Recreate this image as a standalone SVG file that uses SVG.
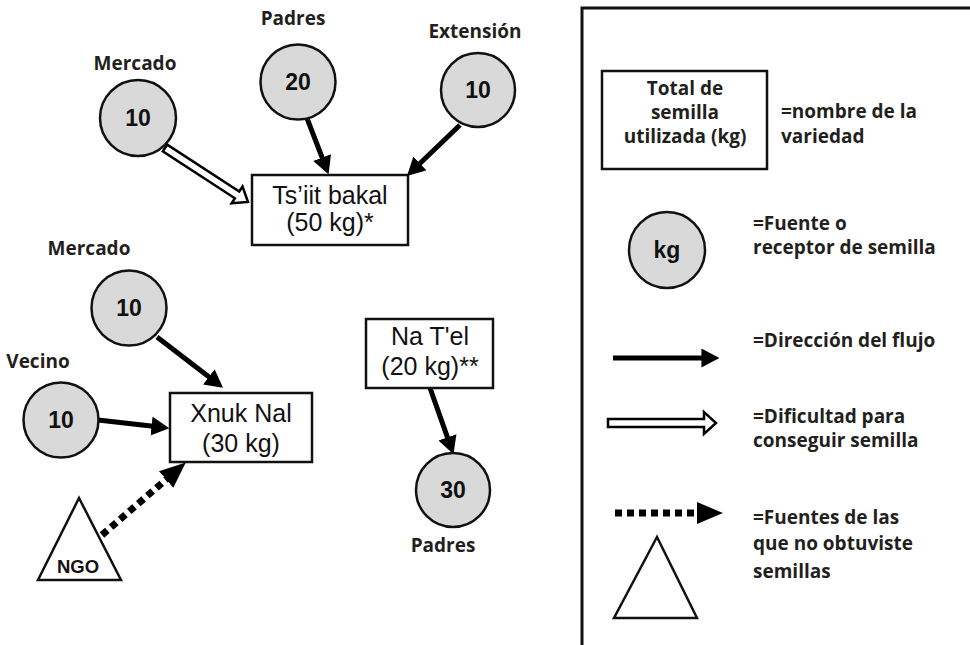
<svg xmlns="http://www.w3.org/2000/svg" width="970" height="645" viewBox="0 0 970 645">
<style>
.lbl{font-family:"Open Sans","Noto Sans",sans-serif;font-weight:700;font-size:19px;fill:#231f20}
.num{font-family:"Liberation Sans",Arial,sans-serif;font-weight:700;font-size:23px;fill:#111;text-anchor:middle}
.box{font-family:"Liberation Sans",Arial,sans-serif;font-size:25px;fill:#111;text-anchor:middle}
.c{fill:#d9d9d9;stroke:#111;stroke-width:2.5}
.r{fill:#fff;stroke:#111;stroke-width:2.5}
.t{fill:#fff;stroke:#111;stroke-width:2.5;stroke-linejoin:miter}
.solid{stroke:#000;stroke-width:5;fill:none;marker-end:url(#ah)}
.dot{stroke:#000;stroke-width:7;fill:none;stroke-dasharray:7 5;marker-end:url(#dh)}
.hollow{fill:#fff;stroke:#000;stroke-width:2.5;stroke-linejoin:miter}
.mid{text-anchor:middle}
</style>
<defs>
<marker id="ah" markerUnits="userSpaceOnUse" markerWidth="18" markerHeight="19" viewBox="0 0 17 18" refX="10" refY="9" orient="auto">
<path d="M0,0 L17,9 L0,18 z" fill="#000"/>
</marker>
<marker id="dh" markerUnits="userSpaceOnUse" markerWidth="26" markerHeight="22" viewBox="0 0 25 21" refX="2" refY="10.5" orient="auto">
<path d="M0,0 L25,10.5 L0,21 z" fill="#000"/>
</marker>
</defs>

<g id="connectors">
<polygon class="hollow" transform="translate(165,148) rotate(33.05)" points="0,-4 86,-4 86,-10 99,0 86,10 86,4 0,4"/>
<line class="solid" x1="305" y1="113" x2="325.9" y2="167.4"/>
<line class="solid" x1="460" y1="125" x2="412.3" y2="170.8"/>
<line class="solid" x1="157" y1="337" x2="217.2" y2="383.3"/>
<line class="solid" x1="98" y1="420" x2="162" y2="427.3"/>
<line class="solid" x1="430" y1="388" x2="451" y2="447.3"/>
<line class="dot" x1="102" y1="535" x2="167.7" y2="478.1"/>
</g>

<g id="mercado1">
<circle class="c" cx="138" cy="118" r="38"/>
<text class="num" x="138" y="126">10</text>
<text class="lbl mid" x="135" y="70">Mercado</text>
</g>
<g id="padres1">
<circle class="c" cx="298" cy="82" r="37.5"/>
<text class="num" x="298" y="90">20</text>
<text class="lbl mid" x="293" y="25">Padres</text>
</g>
<g id="extension">
<circle class="c" cx="478" cy="90" r="37"/>
<text class="num" x="478" y="98">10</text>
<text class="lbl mid" x="475" y="38">Extensión</text>
</g>
<g id="tsiit">
<rect class="r" x="252" y="175" width="156" height="70"/>
<text class="box" x="330" y="204">Ts’iit bakal</text>
<text class="box" x="330" y="231">(50 kg)*</text>
</g>
<g id="mercado2">
<circle class="c" cx="129" cy="308" r="37.5"/>
<text class="num" x="129" y="316">10</text>
<text class="lbl mid" x="89" y="255">Mercado</text>
</g>
<g id="vecino">
<circle class="c" cx="61" cy="420" r="37.5"/>
<text class="num" x="61" y="428">10</text>
<text class="lbl mid" x="38" y="368">Vecino</text>
</g>
<g id="xnuk">
<rect class="r" x="170" y="393" width="142" height="69"/>
<text class="box" x="241" y="422">Xnuk Nal</text>
<text class="box" x="241" y="452">(30 kg)</text>
</g>
<g id="ngo">
<polygon class="t" points="79,498 38,580 121,580"/>
<text class="num" x="78" y="573" style="font-size:18.5px">NGO</text>
</g>
<g id="natel">
<rect class="r" x="366" y="319" width="127" height="69"/>
<text class="box" x="430" y="345">Na T'el</text>
<text class="box" x="430" y="375">(20 kg)**</text>
</g>
<g id="padres2">
<circle class="c" cx="453" cy="490" r="37"/>
<text class="num" x="453" y="498">30</text>
<text class="lbl mid" x="443" y="552">Padres</text>
</g>

<g id="legend">
<path d="M582,645 V8 H972" fill="none" stroke="#111" stroke-width="3"/>
<rect class="r" x="602" y="71" width="165" height="98"/>
<text class="lbl mid" x="685" y="95">Total de</text>
<text class="lbl mid" x="685" y="119">semilla</text>
<text class="lbl mid" x="685" y="143">utilizada (kg)</text>
<text class="lbl" x="781" y="118">=nombre de la</text>
<text class="lbl" x="781" y="143">variedad</text>
<circle class="c" cx="667" cy="250" r="38"/>
<text class="num" x="667" y="258">kg</text>
<text class="lbl" x="753" y="230">=Fuente o</text>
<text class="lbl" x="753" y="254">receptor de semilla</text>
<line class="solid" x1="613" y1="358" x2="712" y2="358"/>
<text class="lbl" x="753" y="347">=Dirección del flujo</text>
<polygon class="hollow" points="608,419 704,419 704,412 716,423 704,434 704,427 608,427"/>
<text class="lbl" x="753" y="423">=Dificultad para</text>
<text class="lbl" x="753" y="447">conseguir semilla</text>
<line class="dot" x1="615" y1="513" x2="699" y2="513"/>
<text class="lbl" x="753" y="524">=Fuentes de las</text>
<text class="lbl" x="753" y="550">que no obtuviste</text>
<text class="lbl" x="753" y="578">semillas</text>
<polygon class="t" points="657,537 614,618 697,618"/>
</g>
</svg>
